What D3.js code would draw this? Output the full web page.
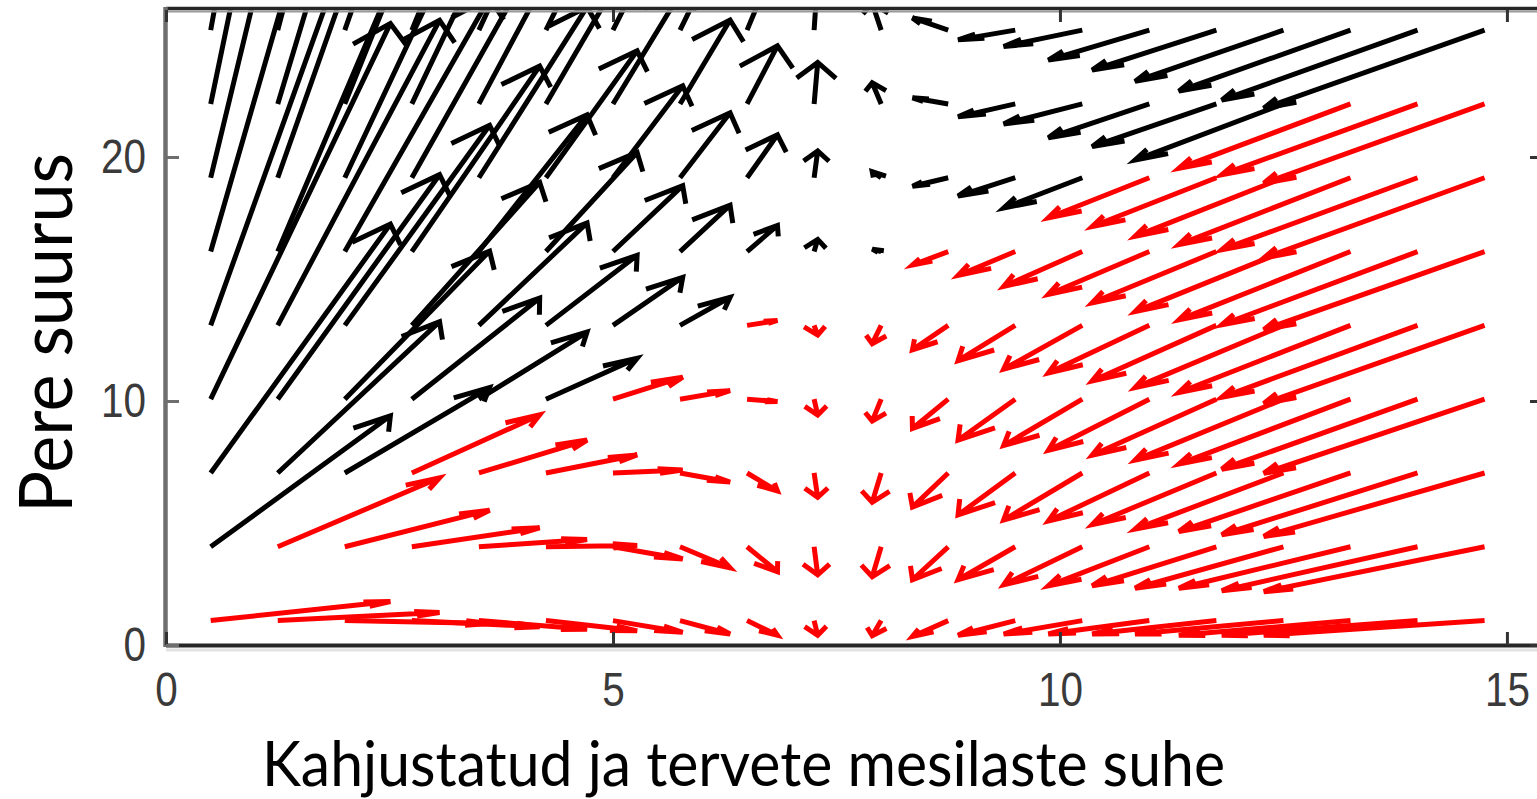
<!DOCTYPE html>
<html>
<head>
<meta charset="utf-8">
<script src="https://cdn.jsdelivr.net/npm/d3@7"></script>
<style>
html, body { margin: 0; padding: 0; background: #fff; overflow: hidden; }
svg { display: block; }
</style>
</head>
<body>
<div id="chart"></div>
<script>
// tail positions of the quiver grid
var xGrid = [0.5, 1.25, 2, 2.75, 3.5, 4.25, 5, 5.75, 6.5, 7.25, 8, 8.75, 9.5, 10.25, 11, 11.75, 12.5, 13.25, 14, 14.75];
var yGrid = [1, 4.025, 7.05, 10.075, 13.1, 16.125, 19.15, 22.175, 25.2];

// horizontal component of the arrows (same in every row)
var uCol = [2.01, 1.81, 1.62, 1.43, 1.21, 1.02, 0.78, 0.56, 0.34, 0.04, -0.10, -0.40, -0.64, -0.88, -1.13, -1.39, -1.66, -1.92, -2.19, -2.47];

// vertical component, one row of the grid each
var vRow1  = [0.78, 0.33, -0.12, -0.25, -0.35, -0.42, -0.48, -0.55, -0.6, -0.6, -0.62, -0.65, -0.6, -0.55, -0.55, -0.55, -0.55, -0.6, -0.6, -0.6];
var vRow4  = [5.37, 2.83, 1.5, 0.78, 0.3, 0.05, -0.5, -0.86, -1.02, -1.15, -1.23, -1.35, -1.35, -1.56, -1.6, -1.6, -1.7, -1.7, -1.8, -1.84];
var vRow7  = [10.2, 6.2, 3.5, 2.38, 1.35, 0.74, 0.12, -0.37, -0.74, -1.0, -1.2, -1.4, -1.72, -1.93, -1.97, -2.12, -2.3, -2.4, -2.53, -2.6];
var vRow10 = [15.4, 9.2, 6.07, 4.14, 2.75, 1.68, 0.9, 0.35, -0.1, -0.65, -0.9, -1.2, -1.68, -1.9, -2.1, -2.3, -2.5, -2.66, -2.87, -3.04];
var vRow13 = [20.5, 12.5, 8.2, 5.86, 4.2, 2.87, 1.97, 1.15, 0.2, -0.4, -0.75, -1.0, -1.45, -1.8, -1.95, -2.28, -2.55, -2.75, -2.95, -3.2];
var vRow16 = [25.5, 15.6, 10.4, 7.6, 5.6, 4.06, 2.7, 1.9, 1.07, 0.5, 0.1, -0.55, -0.98, -1.43, -1.76, -2.1, -2.46, -2.8, -3.0, -3.2];
var vRow19 = [30.5, 18.8, 12.6, 9.3, 7.0, 5.2, 3.77, 2.66, 1.76, 1.1, 0.25, -0.35, -0.75, -1.24, -1.64, -2.0, -2.4, -2.74, -2.95, -3.29];
var vRow22 = [35.5, 22, 14.8, 11, 8.3, 6.4, 4.7, 3.44, 2.38, 1.7, 0.87, 0.25, -0.53, -0.82, -1.39, -1.75, -2.3, -2.64, -2.9, -3.25];
var vRow25 = [40.5, 25.3, 17, 12.7, 9.6, 7.6, 5.7, 4.2, 3.0, 2.2, 1.1, 0.5, -0.4, -0.67, -1.23, -1.64, -2.1, -2.5, -2.87, -3.2];
var vRows = [vRow1, vRow4, vRow7, vRow10, vRow13, vRow16, vRow19, vRow22, vRow25];

// first red column in each row, the ones before it are black
var firstRed = [0, 1, 3, 6, 8, 11, 14, 17, 20];

var xTicks = [0, 5, 10, 15];
var yTicks = [0, 10, 20];
var xTitle = 'Kahjustatud ja tervete mesilaste suhe';
var yTitle = 'Pere suurus';

var width = 1537, height = 799,
    plotLeft = 166, plotRight = 1540, plotTop = 10.6, plotBottom = 645;

var xs = d3.scaleLinear().domain([0, 15.37]).range([plotLeft, plotRight]);
var ys = d3.scaleLinear().domain([0, 26]).range([plotBottom, plotTop]);

var svg = d3.select('#chart')
    .append('svg')
    .attr('width', width)
    .attr('height', height);

var defs = svg.append('defs');
defs.append('clipPath')
    .attr('id', 'plotclip')
    .append('rect')
    .attr('x', plotLeft)
    .attr('y', plotTop)
    .attr('width', plotRight - plotLeft)
    .attr('height', plotBottom - plotTop);
defs.append('filter')
    .attr('id', 'soft')
    .append('feGaussianBlur')
    .attr('stdDeviation', 0.7);

// build the arrows
var arrows = [];
yGrid.forEach(function(y0, j){
    xGrid.forEach(function(x0, k){
        arrows.push({x: x0, y: y0, u: uCol[k], v: vRows[j][k], red: k >= firstRed[j]});
    });
});

var kx = xs(1) - xs(0), ky = ys(0) - ys(1);

// shaft plus an open head, the head built in data units like quiver does
function arrowPath(d){
    var x1 = xs(d.x), y1 = ys(d.y),
        x2 = xs(d.x + d.u), y2 = ys(d.y + d.v),
        len = Math.hypot(x2 - x1, y2 - y1),
        n = Math.hypot(d.u, d.v),
        du = d.u / n, dv = d.v / n,
        sl = Math.hypot(du * kx, dv * ky),
        h = Math.max(9, Math.min(24, 0.38 * len)),
        a = h / sl,
        w = 0.34 * a,
        bx = d.x + d.u - a * du, by = d.y + d.v - a * dv,
        w1 = [xs(bx - w * dv), ys(by + w * du)],
        w2 = [xs(bx + w * dv), ys(by - w * du)];
    return 'M' + x1 + ',' + y1 + 'L' + x2 + ',' + y2 +
        'M' + w1[0] + ',' + w1[1] + 'L' + x2 + ',' + y2 + 'L' + w2[0] + ',' + w2[1];
}

svg.append('g')
    .attr('clip-path', 'url(#plotclip)')
    .append('g')
    .attr('filter', 'url(#soft)')
    .selectAll('path')
    .data(arrows)
    .enter()
    .append('path')
    .attr('d', arrowPath)
    .attr('fill', 'none')
    .attr('stroke', function(d){ return d.red ? '#ff0000' : '#000000'; })
    .attr('stroke-width', 5)
    .attr('stroke-linejoin', 'miter');

// frame
svg.append('line')
    .attr('x1', plotLeft).attr('x2', width).attr('y1', 8.5).attr('y2', 8.5)
    .style('stroke', '#262626').style('stroke-width', 3.5);
svg.append('line')
    .attr('x1', plotLeft).attr('x2', width).attr('y1', 11.5).attr('y2', 11.5)
    .style('stroke', '#9a9a9a').style('stroke-width', 2);
svg.append('line')
    .attr('x1', plotLeft).attr('x2', width).attr('y1', 650).attr('y2', 650)
    .style('stroke', '#e2e2e2').style('stroke-width', 3);
svg.append('line')
    .attr('x1', plotLeft).attr('x2', width).attr('y1', plotBottom + 0.5).attr('y2', plotBottom + 0.5)
    .style('stroke', '#262626').style('stroke-width', 4);
svg.append('line')
    .attr('x1', plotLeft - 0.5).attr('x2', plotLeft - 0.5).attr('y1', 7).attr('y2', plotBottom + 2)
    .style('stroke', '#6e6e6e').style('stroke-width', 4.5);

// axes
var gx = svg.append('g')
    .attr('transform', 'translate(0,' + plotBottom + ')')
    .call(d3.axisBottom(xs).tickValues(xTicks).tickSize(-13).tickPadding(27));
var gxTop = svg.append('g')
    .attr('transform', 'translate(0,10)')
    .call(d3.axisTop(xs).tickValues(xTicks).tickSize(-12).tickFormat(''));
var gy = svg.append('g')
    .attr('transform', 'translate(' + plotLeft + ',0)')
    .call(d3.axisLeft(ys).tickValues(yTicks).tickSize(-13).tickPadding(20));
var gyRight = svg.append('g')
    .attr('transform', 'translate(' + plotRight + ',0)')
    .call(d3.axisRight(ys).tickValues(yTicks).tickSize(-10).tickFormat(''));

[gx, gxTop, gy, gyRight].forEach(function(g){
    g.select('.domain').remove();
    g.selectAll('.tick line').style('stroke', '#333').style('stroke-width', 3);
});
gy.selectAll('.tick line').style('stroke', '#6e6e6e');

[gx, gy].forEach(function(g){
    g.selectAll('.tick text')
        .attr('font-family', '"Liberation Sans", Arial, sans-serif')
        .attr('font-size', '48px')
        .attr('fill', '#3a3a3a')
        .attr('textLength', function(d){ return String(d).length * 22.5; })
        .attr('lengthAdjust', 'spacingAndGlyphs');
});

// titles
svg.append('text')
    .text(xTitle)
    .attr('x', 262)
    .attr('y', 786)
    .attr('font-family', 'Lato, "Open Sans", sans-serif')
    .attr('font-size', '62px')
    .attr('fill', '#000')
    .attr('textLength', 963)
    .attr('lengthAdjust', 'spacingAndGlyphs');

svg.append('text')
    .text(yTitle)
    .attr('transform', 'translate(72,513) rotate(-90)')
    .attr('x', 0)
    .attr('y', 0)
    .attr('font-family', 'Lato, "Open Sans", sans-serif')
    .attr('font-size', '74px')
    .attr('fill', '#000')
    .attr('textLength', 360)
    .attr('lengthAdjust', 'spacingAndGlyphs');
</script>
</body>
</html>
